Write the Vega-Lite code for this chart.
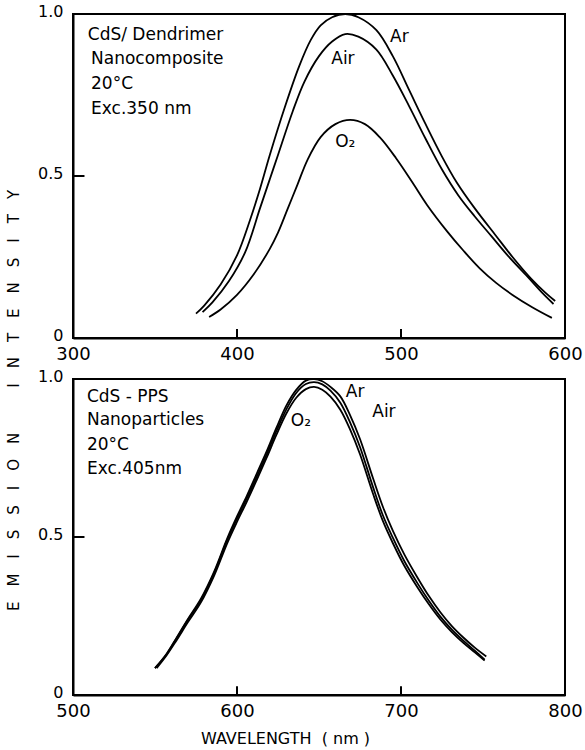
{
  "$schema": "https://vega.github.io/schema/vega-lite/v6.json",
  "padding": {"left": 5, "top": 2, "right": 5, "bottom": 2},
  "background": "white",
  "bounds": "flush",
  "spacing": 41,
  "config": {
    "font": "DejaVu Sans",
    "view": {"stroke": "black", "strokeWidth": 2},
    "axis": {
      "grid": false,
      "ticks": false,
      "domainColor": "black",
      "domainWidth": 2,
      "labelColor": "black",
      "labelFont": "DejaVu Sans",
      "titleFont": "DejaVu Sans",
      "titleColor": "black",
      "titleFontWeight": "normal"
    }
  },
  "datasets": {
    "top": [
      {"series": "Ar", "wavelength": 375, "intensity": 0.075},
      {"series": "Ar", "wavelength": 380, "intensity": 0.10},
      {"series": "Ar", "wavelength": 390, "intensity": 0.165},
      {"series": "Ar", "wavelength": 400, "intensity": 0.255},
      {"series": "Ar", "wavelength": 408, "intensity": 0.365},
      {"series": "Ar", "wavelength": 414, "intensity": 0.46},
      {"series": "Ar", "wavelength": 420, "intensity": 0.565},
      {"series": "Ar", "wavelength": 429, "intensity": 0.71},
      {"series": "Ar", "wavelength": 438, "intensity": 0.84},
      {"series": "Ar", "wavelength": 445, "intensity": 0.92},
      {"series": "Ar", "wavelength": 451, "intensity": 0.965},
      {"series": "Ar", "wavelength": 458, "intensity": 0.99},
      {"series": "Ar", "wavelength": 466, "intensity": 1.0},
      {"series": "Ar", "wavelength": 474, "intensity": 0.99},
      {"series": "Ar", "wavelength": 485, "intensity": 0.95},
      {"series": "Ar", "wavelength": 495, "intensity": 0.87},
      {"series": "Ar", "wavelength": 505, "intensity": 0.765},
      {"series": "Ar", "wavelength": 515, "intensity": 0.66},
      {"series": "Ar", "wavelength": 525, "intensity": 0.56},
      {"series": "Ar", "wavelength": 534, "intensity": 0.48},
      {"series": "Ar", "wavelength": 545, "intensity": 0.40},
      {"series": "Ar", "wavelength": 558, "intensity": 0.315},
      {"series": "Ar", "wavelength": 568, "intensity": 0.25},
      {"series": "Ar", "wavelength": 579, "intensity": 0.185},
      {"series": "Ar", "wavelength": 588, "intensity": 0.14},
      {"series": "Ar", "wavelength": 594, "intensity": 0.114},
      {"series": "Air", "wavelength": 379, "intensity": 0.08},
      {"series": "Air", "wavelength": 385, "intensity": 0.11},
      {"series": "Air", "wavelength": 395, "intensity": 0.175},
      {"series": "Air", "wavelength": 405, "intensity": 0.265},
      {"series": "Air", "wavelength": 414, "intensity": 0.40},
      {"series": "Air", "wavelength": 420, "intensity": 0.49},
      {"series": "Air", "wavelength": 425, "intensity": 0.565},
      {"series": "Air", "wavelength": 434, "intensity": 0.70},
      {"series": "Air", "wavelength": 441, "intensity": 0.79},
      {"series": "Air", "wavelength": 450, "intensity": 0.87},
      {"series": "Air", "wavelength": 458, "intensity": 0.915},
      {"series": "Air", "wavelength": 466, "intensity": 0.938},
      {"series": "Air", "wavelength": 474, "intensity": 0.93},
      {"series": "Air", "wavelength": 485, "intensity": 0.89},
      {"series": "Air", "wavelength": 495, "intensity": 0.81},
      {"series": "Air", "wavelength": 505, "intensity": 0.715},
      {"series": "Air", "wavelength": 515, "intensity": 0.615},
      {"series": "Air", "wavelength": 525, "intensity": 0.52},
      {"series": "Air", "wavelength": 535, "intensity": 0.44},
      {"series": "Air", "wavelength": 545, "intensity": 0.375},
      {"series": "Air", "wavelength": 555, "intensity": 0.315},
      {"series": "Air", "wavelength": 565, "intensity": 0.255},
      {"series": "Air", "wavelength": 577, "intensity": 0.19},
      {"series": "Air", "wavelength": 586, "intensity": 0.14},
      {"series": "Air", "wavelength": 593, "intensity": 0.105},
      {"series": "O2", "wavelength": 383, "intensity": 0.065},
      {"series": "O2", "wavelength": 390, "intensity": 0.088},
      {"series": "O2", "wavelength": 400, "intensity": 0.133},
      {"series": "O2", "wavelength": 410, "intensity": 0.195},
      {"series": "O2", "wavelength": 420, "intensity": 0.275},
      {"series": "O2", "wavelength": 425, "intensity": 0.325},
      {"series": "O2", "wavelength": 431, "intensity": 0.40},
      {"series": "O2", "wavelength": 437, "intensity": 0.475},
      {"series": "O2", "wavelength": 443, "intensity": 0.55},
      {"series": "O2", "wavelength": 451, "intensity": 0.62},
      {"series": "O2", "wavelength": 460, "intensity": 0.66},
      {"series": "O2", "wavelength": 469, "intensity": 0.673},
      {"series": "O2", "wavelength": 478, "intensity": 0.66},
      {"series": "O2", "wavelength": 487, "intensity": 0.62},
      {"series": "O2", "wavelength": 497, "intensity": 0.555},
      {"series": "O2", "wavelength": 507, "intensity": 0.48},
      {"series": "O2", "wavelength": 516, "intensity": 0.41},
      {"series": "O2", "wavelength": 528, "intensity": 0.33},
      {"series": "O2", "wavelength": 538, "intensity": 0.27},
      {"series": "O2", "wavelength": 548, "intensity": 0.215},
      {"series": "O2", "wavelength": 558, "intensity": 0.17},
      {"series": "O2", "wavelength": 568, "intensity": 0.133},
      {"series": "O2", "wavelength": 580, "intensity": 0.095},
      {"series": "O2", "wavelength": 592, "intensity": 0.062}
    ],
    "bottom": [
      {"series": "Ar", "wavelength": 550, "intensity": 0.085},
      {"series": "Ar", "wavelength": 557, "intensity": 0.13},
      {"series": "Ar", "wavelength": 563, "intensity": 0.18},
      {"series": "Ar", "wavelength": 570, "intensity": 0.24},
      {"series": "Ar", "wavelength": 578, "intensity": 0.305},
      {"series": "Ar", "wavelength": 586, "intensity": 0.39},
      {"series": "Ar", "wavelength": 594, "intensity": 0.495},
      {"series": "Ar", "wavelength": 600, "intensity": 0.565},
      {"series": "Ar", "wavelength": 606, "intensity": 0.63},
      {"series": "Ar", "wavelength": 612, "intensity": 0.70},
      {"series": "Ar", "wavelength": 618, "intensity": 0.77},
      {"series": "Ar", "wavelength": 624, "intensity": 0.845},
      {"series": "Ar", "wavelength": 630, "intensity": 0.915},
      {"series": "Ar", "wavelength": 636, "intensity": 0.965},
      {"series": "Ar", "wavelength": 642, "intensity": 0.995},
      {"series": "Ar", "wavelength": 647, "intensity": 1.0},
      {"series": "Ar", "wavelength": 652, "intensity": 0.993},
      {"series": "Ar", "wavelength": 657, "intensity": 0.975},
      {"series": "Ar", "wavelength": 663, "intensity": 0.945},
      {"series": "Ar", "wavelength": 669, "intensity": 0.885},
      {"series": "Ar", "wavelength": 675, "intensity": 0.81},
      {"series": "Ar", "wavelength": 683, "intensity": 0.685},
      {"series": "Ar", "wavelength": 689, "intensity": 0.595},
      {"series": "Ar", "wavelength": 695, "intensity": 0.52},
      {"series": "Ar", "wavelength": 702, "intensity": 0.445},
      {"series": "Ar", "wavelength": 710, "intensity": 0.372},
      {"series": "Ar", "wavelength": 717, "intensity": 0.313},
      {"series": "Ar", "wavelength": 724, "intensity": 0.262},
      {"series": "Ar", "wavelength": 731, "intensity": 0.218},
      {"series": "Ar", "wavelength": 738, "intensity": 0.182},
      {"series": "Ar", "wavelength": 745, "intensity": 0.15},
      {"series": "Ar", "wavelength": 752, "intensity": 0.122},
      {"series": "Air", "wavelength": 550, "intensity": 0.085},
      {"series": "Air", "wavelength": 557, "intensity": 0.128},
      {"series": "Air", "wavelength": 563, "intensity": 0.178},
      {"series": "Air", "wavelength": 570, "intensity": 0.237},
      {"series": "Air", "wavelength": 578, "intensity": 0.30},
      {"series": "Air", "wavelength": 586, "intensity": 0.385},
      {"series": "Air", "wavelength": 594, "intensity": 0.49},
      {"series": "Air", "wavelength": 600, "intensity": 0.558},
      {"series": "Air", "wavelength": 606, "intensity": 0.622},
      {"series": "Air", "wavelength": 612, "intensity": 0.69},
      {"series": "Air", "wavelength": 618, "intensity": 0.76},
      {"series": "Air", "wavelength": 624, "intensity": 0.835},
      {"series": "Air", "wavelength": 630, "intensity": 0.903},
      {"series": "Air", "wavelength": 636, "intensity": 0.955},
      {"series": "Air", "wavelength": 642, "intensity": 0.984},
      {"series": "Air", "wavelength": 647, "intensity": 0.99},
      {"series": "Air", "wavelength": 652, "intensity": 0.983},
      {"series": "Air", "wavelength": 657, "intensity": 0.963},
      {"series": "Air", "wavelength": 663, "intensity": 0.925},
      {"series": "Air", "wavelength": 669, "intensity": 0.862},
      {"series": "Air", "wavelength": 675, "intensity": 0.785},
      {"series": "Air", "wavelength": 683, "intensity": 0.657},
      {"series": "Air", "wavelength": 689, "intensity": 0.568},
      {"series": "Air", "wavelength": 695, "intensity": 0.498},
      {"series": "Air", "wavelength": 702, "intensity": 0.424},
      {"series": "Air", "wavelength": 710, "intensity": 0.354},
      {"series": "Air", "wavelength": 717, "intensity": 0.298},
      {"series": "Air", "wavelength": 724, "intensity": 0.248},
      {"series": "Air", "wavelength": 731, "intensity": 0.207},
      {"series": "Air", "wavelength": 738, "intensity": 0.172},
      {"series": "Air", "wavelength": 745, "intensity": 0.140},
      {"series": "Air", "wavelength": 751, "intensity": 0.112},
      {"series": "O2", "wavelength": 551, "intensity": 0.085},
      {"series": "O2", "wavelength": 557, "intensity": 0.125},
      {"series": "O2", "wavelength": 563, "intensity": 0.172},
      {"series": "O2", "wavelength": 570, "intensity": 0.23},
      {"series": "O2", "wavelength": 578, "intensity": 0.293},
      {"series": "O2", "wavelength": 586, "intensity": 0.377},
      {"series": "O2", "wavelength": 594, "intensity": 0.48},
      {"series": "O2", "wavelength": 600, "intensity": 0.548},
      {"series": "O2", "wavelength": 606, "intensity": 0.612},
      {"series": "O2", "wavelength": 612, "intensity": 0.68},
      {"series": "O2", "wavelength": 618, "intensity": 0.75},
      {"series": "O2", "wavelength": 624, "intensity": 0.823},
      {"series": "O2", "wavelength": 630, "intensity": 0.89},
      {"series": "O2", "wavelength": 636, "intensity": 0.94},
      {"series": "O2", "wavelength": 642, "intensity": 0.968},
      {"series": "O2", "wavelength": 647, "intensity": 0.975},
      {"series": "O2", "wavelength": 652, "intensity": 0.966},
      {"series": "O2", "wavelength": 657, "intensity": 0.944},
      {"series": "O2", "wavelength": 663, "intensity": 0.903},
      {"series": "O2", "wavelength": 669, "intensity": 0.84},
      {"series": "O2", "wavelength": 675, "intensity": 0.762},
      {"series": "O2", "wavelength": 683, "intensity": 0.636},
      {"series": "O2", "wavelength": 689, "intensity": 0.55},
      {"series": "O2", "wavelength": 695, "intensity": 0.481},
      {"series": "O2", "wavelength": 702, "intensity": 0.409},
      {"series": "O2", "wavelength": 710, "intensity": 0.341},
      {"series": "O2", "wavelength": 717, "intensity": 0.287},
      {"series": "O2", "wavelength": 724, "intensity": 0.239},
      {"series": "O2", "wavelength": 731, "intensity": 0.199},
      {"series": "O2", "wavelength": 738, "intensity": 0.165},
      {"series": "O2", "wavelength": 745, "intensity": 0.135},
      {"series": "O2", "wavelength": 751, "intensity": 0.109}
    ],
    "topCurveLabels": [
      {"wavelength": 499, "intensity": 0.93, "label": "Ar"},
      {"wavelength": 464.6, "intensity": 0.86, "label": "Air"},
      {"wavelength": 466, "intensity": 0.605, "label": "O₂"}
    ],
    "topNotes": [
      {"wavelength": 309, "intensity": 0.935, "label": "CdS/ Dendrimer"},
      {"wavelength": 311, "intensity": 0.861, "label": "Nanocomposite"},
      {"wavelength": 311, "intensity": 0.784, "label": "20°C"},
      {"wavelength": 311, "intensity": 0.707, "label": "Exc.350 nm"}
    ],
    "topXTicks": [
      {"wavelength": 400, "lo": 0, "hi": 0.028},
      {"wavelength": 500, "lo": 0, "hi": 0.028}
    ],
    "topYTicks": [{"intensity": 0.5, "lo": 300, "hi": 307}],
    "bottomCurveLabels": [
      {"wavelength": 672, "intensity": 0.959, "label": "Ar"},
      {"wavelength": 689.6, "intensity": 0.895, "label": "Air"},
      {"wavelength": 639, "intensity": 0.867, "label": "O₂"}
    ],
    "bottomNotes": [
      {"wavelength": 508.5, "intensity": 0.943, "label": "CdS - PPS"},
      {"wavelength": 508.5, "intensity": 0.870, "label": "Nanoparticles"},
      {"wavelength": 508.5, "intensity": 0.791, "label": "20°C"},
      {"wavelength": 508.5, "intensity": 0.715, "label": "Exc.405nm"}
    ],
    "bottomXTicks": [
      {"wavelength": 600, "lo": 0, "hi": 0.028},
      {"wavelength": 700, "lo": 0, "hi": 0.028}
    ],
    "bottomYTicks": [{"intensity": 0.5, "lo": 500, "hi": 507}]
  },
  "vconcat": [
    {
      "width": 492,
      "height": 324,
      "layer": [
        {"data": {"name": "top"}, "mark": {"type": "line", "color": "black", "strokeWidth": 1.8, "interpolate": "catmull-rom"},
          "encoding": {
            "x": {"field": "wavelength", "type": "quantitative",
              "scale": {"domain": [300, 600], "nice": false, "zero": false},
              "axis": {"title": null, "values": [300, 400, 500, 600], "labelFontSize": 18, "labelPadding": 7, "labelFlush": false}},
            "y": {"field": "intensity", "type": "quantitative",
              "scale": {"domain": [0, 1], "nice": false},
              "axis": {"values": [0, 0.5, 1], "labelFontSize": 16, "labelPadding": 10, "labelOffset": -3,
                "labelExpr": "datum.value == 0 ? '0' : format(datum.value, '.1f')",
                "title": "E\u2003M\u2003I\u2003S\u2003S\u2003I\u2003O\u2003N\u2003\u2003\u2003I\u2003N\u2003T\u2003E\u2003N\u2003S\u2003I\u2003T\u2003Y",
                "titleFontSize": 15, "titleX": -60, "titleY": 386, "titleAngle": 270,
                "titleAlign": "center", "titleBaseline": "middle"}},
            "detail": {"field": "series"}}},
        {"data": {"name": "topXTicks"}, "mark": {"type": "rule", "color": "black", "strokeWidth": 2},
          "encoding": {
            "x": {"field": "wavelength", "type": "quantitative"},
            "y": {"field": "lo", "type": "quantitative"},
            "y2": {"field": "hi"}}},
        {"data": {"name": "topYTicks"}, "mark": {"type": "rule", "color": "black", "strokeWidth": 2},
          "encoding": {
            "y": {"field": "intensity", "type": "quantitative"},
            "x": {"field": "lo", "type": "quantitative"},
            "x2": {"field": "hi"}}},
        {"data": {"name": "topCurveLabels"}, "mark": {"type": "text", "align": "center", "baseline": "middle", "fontSize": 17, "color": "black"},
          "encoding": {
            "x": {"field": "wavelength", "type": "quantitative"},
            "y": {"field": "intensity", "type": "quantitative"},
            "text": {"field": "label"}}},
        {"data": {"name": "topNotes"}, "mark": {"type": "text", "align": "left", "baseline": "middle", "fontSize": 17, "color": "black"},
          "encoding": {
            "x": {"field": "wavelength", "type": "quantitative"},
            "y": {"field": "intensity", "type": "quantitative"},
            "text": {"field": "label"}}}
      ]
    },
    {
      "width": 492,
      "height": 316,
      "layer": [
        {"data": {"name": "bottom"}, "mark": {"type": "line", "color": "black", "strokeWidth": 1.8, "interpolate": "catmull-rom"},
          "encoding": {
            "x": {"field": "wavelength", "type": "quantitative",
              "scale": {"domain": [500, 800], "nice": false, "zero": false},
              "axis": {"title": "WAVELENGTH\u00a0\u00a0(\u00a0nm\u00a0)", "values": [500, 600, 700, 800], "labelFontSize": 18, "labelPadding": 7, "labelFlush": false,
                "titleFontSize": 16, "titleX": 212, "titleY": 43, "titleBaseline": "middle"}},
            "y": {"field": "intensity", "type": "quantitative",
              "scale": {"domain": [0, 1], "nice": false},
              "axis": {"values": [0, 0.5, 1], "labelFontSize": 16, "labelPadding": 10, "labelOffset": -3, "title": null,
                "labelExpr": "datum.value == 0 ? '0' : format(datum.value, '.1f')"}},
            "detail": {"field": "series"}}},
        {"data": {"name": "bottomXTicks"}, "mark": {"type": "rule", "color": "black", "strokeWidth": 2},
          "encoding": {
            "x": {"field": "wavelength", "type": "quantitative"},
            "y": {"field": "lo", "type": "quantitative"},
            "y2": {"field": "hi"}}},
        {"data": {"name": "bottomYTicks"}, "mark": {"type": "rule", "color": "black", "strokeWidth": 2},
          "encoding": {
            "y": {"field": "intensity", "type": "quantitative"},
            "x": {"field": "lo", "type": "quantitative"},
            "x2": {"field": "hi"}}},
        {"data": {"name": "bottomCurveLabels"}, "mark": {"type": "text", "align": "center", "baseline": "middle", "fontSize": 17, "color": "black"},
          "encoding": {
            "x": {"field": "wavelength", "type": "quantitative"},
            "y": {"field": "intensity", "type": "quantitative"},
            "text": {"field": "label"}}},
        {"data": {"name": "bottomNotes"}, "mark": {"type": "text", "align": "left", "baseline": "middle", "fontSize": 17, "color": "black"},
          "encoding": {
            "x": {"field": "wavelength", "type": "quantitative"},
            "y": {"field": "intensity", "type": "quantitative"},
            "text": {"field": "label"}}}
      ]
    }
  ]
}
